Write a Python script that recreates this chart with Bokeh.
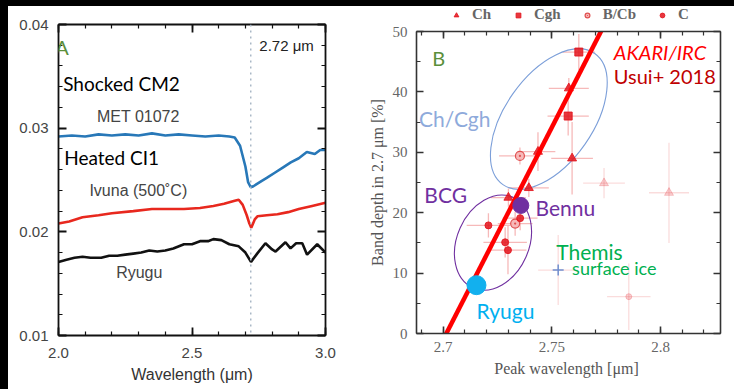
import math
from bokeh.plotting import figure
from bokeh.layouts import row, column
from bokeh.models import (Range1d, LinearAxis, SingleIntervalTicker, Span, Label,
                          Legend, LegendItem, CustomJSTickFormatter)
from bokeh.embed import file_html
from bokeh.resources import INLINE

# ---------------- Panel A data (reflectance spectra) ----------------
wl_met = [2.00, 2.05, 2.10, 2.15, 2.20, 2.25, 2.30, 2.35, 2.40, 2.45, 2.50, 2.55, 2.60,
          2.64, 2.66, 2.68, 2.70, 2.71, 2.72, 2.73, 2.76, 2.78, 2.81, 2.84, 2.87, 2.90,
          2.93, 2.96, 2.98, 3.00]
met_01072 = [0.0292, 0.0293, 0.0292, 0.0294, 0.0293, 0.0294, 0.0293, 0.0295, 0.0293, 0.0294,
             0.0293, 0.0292, 0.0293, 0.0292, 0.0291, 0.0283, 0.0263, 0.0248, 0.0243, 0.0244,
             0.0249, 0.0252, 0.0257, 0.0262, 0.0267, 0.0271, 0.0277, 0.0275, 0.0279, 0.0279]

wl_ivuna = [2.00, 2.04, 2.09, 2.15, 2.20, 2.28, 2.35, 2.42, 2.47, 2.53, 2.58, 2.62, 2.66,
            2.675, 2.69, 2.705, 2.715, 2.722, 2.735, 2.745, 2.78, 2.82, 2.86, 2.90, 2.95, 3.00]
ivuna_500C = [0.0208, 0.0210, 0.0214, 0.0216, 0.0218, 0.0220, 0.0222, 0.0222, 0.0222, 0.0223,
              0.0225, 0.0227, 0.0230, 0.0231, 0.0226, 0.0216, 0.0208, 0.0204, 0.0212, 0.0215,
              0.0216, 0.0217, 0.0219, 0.0222, 0.0225, 0.0228]

wl_ryugu = [2.00, 2.03, 2.06, 2.09, 2.12, 2.16, 2.19, 2.22, 2.25, 2.28, 2.31, 2.34, 2.37,
            2.40, 2.43, 2.47, 2.50, 2.53, 2.56, 2.58, 2.61, 2.64, 2.675, 2.70, 2.721, 2.744,
            2.775, 2.80, 2.813, 2.85, 2.869, 2.89, 2.913, 2.931, 2.969, 3.00]
ryugu_spec = [0.0171, 0.0173, 0.0175, 0.0176, 0.0175, 0.0175, 0.0177, 0.0177, 0.0178, 0.0179,
              0.0180, 0.0182, 0.0181, 0.0182, 0.0184, 0.0188, 0.0188, 0.0191, 0.0191, 0.0193,
              0.0192, 0.0188, 0.0186, 0.0180, 0.0171, 0.0179, 0.0189, 0.0183, 0.0181, 0.0190,
              0.0184, 0.0189, 0.0189, 0.0178, 0.0188, 0.0180]

band_center = 2.72

# ---------------- Panel B data (band depth vs peak wavelength) ----------------
ch_x = [2.7578, 2.7593, 2.7436, 2.7394, 2.7300]
ch_y = [40.6, 29.0, 30.1, 24.1, 22.5]
ch_xerr = [0.0092, 0.0096, 0.0080, 0.0092, 0.0080]
ch_yerr = [1.7, 6.0, 3.2, 1.5, 1.5]

cgh_x = [2.7624, 2.7575]
cgh_y = [46.6, 36.0]
cgh_xerr = [0.0075, 0.0095]
cgh_yerr = [3.0, 3.2]

bcb_x = [2.7353, 2.7331]
bcb_y = [29.4, 18.2]
bcb_xerr = [0.0096, 0.0080]
bcb_yerr = [1.4, 2.0]

c_x = [2.7208, 2.7285, 2.7298, 2.7354]
c_y = [17.9, 15.1, 13.8, 19.1]
c_xerr = [0.0100, 0.0100, 0.0085, 0.0080]
c_yerr = [2.0, 2.5, 4.0, 2.0]

faint_ch_x = [2.7740, 2.8039]
faint_ch_y = [24.9, 23.3]
faint_ch_xerr = [0.0096, 0.0092]
faint_ch_yerr = [2.5, 8.3]

faint_c_x = [2.7854]
faint_c_y = [6.1]
faint_c_xerr = [0.0100]
faint_c_yerr = [5.5]

themis_x = [2.7529]
themis_y = [10.5]
themis_xerr = [0.0092]
themis_yerr = [5.8]

bennu_x = [2.7357]
bennu_y = [21.2]
ryugu_x = [2.7153]
ryugu_y = [8.0]

fit_x = [2.700, 2.774]
fit_y = [-1.0, 51.0]

legend_labels = ["Ch", "Cgh", "B/Cb", "C"]

SANS = "Liberation Sans"
CAL = "Lato"
SERIF = "Liberation Serif"
BLANK = CustomJSTickFormatter(code="return '';")

RED = "#e3141c"
ERR = "#f08a8a"
MARKER_STYLES = [
    dict(marker="triangle", size=9, fill_color=RED, line_color=RED, fill_alpha=0.85, line_alpha=0.85),
    dict(marker="square", size=8, fill_color=RED, line_color=RED, fill_alpha=0.85, line_alpha=0.85),
    dict(marker="circle_dot", size=9, fill_color="#f7b9b9", line_color="#e05050", line_width=1.2),
    dict(marker="circle", size=7, fill_color=RED, line_color=RED, fill_alpha=0.85, line_alpha=0.85),
]


def style_axes(p, color, width, major_in, font, size, label_color):
    for ax in p.below + p.left + p.above + p.right:
        ax.axis_line_color = color
        ax.axis_line_width = width
        ax.major_tick_line_color = color
        ax.minor_tick_line_color = color
        ax.major_tick_line_width = width
        ax.minor_tick_line_width = 1.2
        ax.major_tick_in = major_in
        ax.major_tick_out = 0
        ax.minor_tick_in = 4
        ax.minor_tick_out = 0
        ax.major_label_text_font = font
        ax.major_label_text_font_size = size
        ax.major_label_text_color = label_color


def mirror_axes(p, xt, yt):
    top = LinearAxis(ticker=xt, formatter=BLANK, major_label_standoff=0)
    right = LinearAxis(ticker=yt, formatter=BLANK, major_label_standoff=0)
    p.add_layout(top, "above")
    p.add_layout(right, "right")


def lab(p, x, y, text, font, size, color, align="left", style="normal"):
    p.add_layout(Label(x=x, y=y, text=text, text_font=font, text_font_size=size,
                       text_color=color, text_align=align, text_baseline="middle",
                       text_font_style=style))


# ======================= Panel A =======================
pa = figure(width=357, height=383, x_range=Range1d(2.0, 3.0), y_range=Range1d(0.01, 0.04),
            output_backend="svg", toolbar_location=None,
            min_border_left=50, min_border_right=40, min_border_top=18, min_border_bottom=54,
            margin=(6, 0, 0, 8), background_fill_color="white", border_fill_color="white")
pa.grid.visible = False
pa.outline_line_color = None

xt_a = SingleIntervalTicker(interval=0.5, num_minor_ticks=5)
yt_a = SingleIntervalTicker(interval=0.01, num_minor_ticks=5)
pa.below[0].ticker = xt_a
pa.left[0].ticker = yt_a
pa.below[0].formatter = CustomJSTickFormatter(code="return tick.toFixed(1);")
pa.left[0].formatter = CustomJSTickFormatter(code="return tick.toFixed(2);")
mirror_axes(pa, xt_a, yt_a)
style_axes(pa, "#111111", 1.8, 8, SANS, "15px", "#444444")
pa.below[0].major_label_standoff = 12
pa.left[0].major_label_standoff = 10
pa.below[0].axis_label = "Wavelength (μm)"
pa.below[0].axis_label_text_font = SANS
pa.below[0].axis_label_text_font_style = "normal"
pa.below[0].axis_label_text_font_size = "16px"
pa.below[0].axis_label_text_color = "#333333"
pa.below[0].axis_label_standoff = 5

pa.add_layout(Span(location=band_center, dimension="height", line_color="#a9b7c6",
                   line_width=1.5, line_dash="2 4"))

pa.line(wl_met, met_01072, line_color="#2878b8", line_width=2.6)
pa.line(wl_ivuna, ivuna_500C, line_color="#e8281e", line_width=2.6)
pa.line(wl_ryugu, ryugu_spec, line_color="#111111", line_width=2.6)

lab(pa, 1.988, 0.0378, "A", CAL, "20px", "#5b8f3b")
lab(pa, 2.0176, 0.0343, "Shocked CM2", CAL, "19px", "#000000")
lab(pa, 2.299, 0.0311, "MET 01072", SANS, "16px", "#444444", "center")
lab(pa, 2.0214, 0.02717, "Heated CI1", CAL, "19px", "#000000")
lab(pa, 2.299, 0.0240, "Ivuna (500˚C)", SANS, "16px", "#444444", "center")
lab(pa, 2.3026, 0.0161, "Ryugu", SANS, "16px", "#444444", "center")
lab(pa, 2.752, 0.0380, "2.72 μm", SANS, "15px", "#222222")

# ======================= Panel B legend strip =======================
# proxy renderers: first point of each class, outside this strip's (0..1) ranges
pl = figure(width=369, height=17, x_range=Range1d(0, 1), y_range=Range1d(0, 1),
            output_backend="svg", toolbar_location=None, min_border=0,
            margin=(6, 0, 0, 0), background_fill_color="white", border_fill_color="white")
pl.axis.visible = False
pl.grid.visible = False
pl.outline_line_color = None
proxies = [(ch_x, ch_y), (cgh_x, cgh_y), (bcb_x, bcb_y), (c_x, c_y)]
leg_renderers = [pl.scatter(xs[:1], ys[:1], **st) for (xs, ys), st in zip(proxies, MARKER_STYLES)]
legend = Legend(items=[LegendItem(label=t, renderers=[r]) for t, r in zip(legend_labels, leg_renderers)],
                orientation="horizontal", location=(34, 0),
                border_line_color=None, background_fill_alpha=0,
                label_text_font=SERIF, label_text_font_style="bold",
                label_text_color="#666666", label_text_font_size="15px",
                glyph_width=12, glyph_height=12, spacing=20, padding=0, margin=0,
                label_standoff=10, label_height=14)
pl.add_layout(legend, "center")

# ======================= Panel B =======================
pb = figure(width=369, height=366, x_range=Range1d(2.6877, 2.8276), y_range=Range1d(0, 50),
            output_backend="svg", toolbar_location=None,
            min_border_left=51, min_border_right=14, min_border_top=8, min_border_bottom=56,
            margin=(0, 0, 0, 0), background_fill_color="white", border_fill_color="white")
pb.grid.visible = False
pb.outline_line_color = None

xt_b = SingleIntervalTicker(interval=0.05, num_minor_ticks=5)
yt_b = SingleIntervalTicker(interval=10, num_minor_ticks=2)
pb.below[0].ticker = xt_b
pb.left[0].ticker = yt_b
pb.below[0].formatter = CustomJSTickFormatter(code="return Number(tick.toFixed(2)).toString();")
mirror_axes(pb, xt_b, yt_b)
style_axes(pb, "#333333", 1.6, 7, SERIF, "15px", "#666666")
pb.below[0].major_label_standoff = 8
pb.left[0].major_label_standoff = 9
pb.below[0].axis_label = "Peak wavelength  [μm]"
pb.left[0].axis_label = "Band depth in 2.7 μm [%]"
for ax in (pb.below[0], pb.left[0]):
    ax.axis_label_text_font = SERIF
    ax.axis_label_text_font_style = "normal"
    ax.axis_label_text_font_size = "16px"
    ax.axis_label_text_color = "#555555"
pb.below[0].axis_label_standoff = 5
pb.left[0].axis_label_standoff = 4


def errbars(xs, ys, xe, ye, alpha):
    pb.segment([x - e for x, e in zip(xs, xe)], ys, [x + e for x, e in zip(xs, xe)], ys,
               line_color=ERR, line_width=1.3, line_alpha=alpha)
    pb.segment(xs, [y - e for y, e in zip(ys, ye)], xs, [y + e for y, e in zip(ys, ye)],
               line_color=ERR, line_width=1.3, line_alpha=alpha)


errbars(ch_x, ch_y, ch_xerr, ch_yerr, 0.6)
errbars(cgh_x, cgh_y, cgh_xerr, cgh_yerr, 0.6)
errbars(bcb_x, bcb_y, bcb_xerr, bcb_yerr, 0.6)
errbars(c_x, c_y, c_xerr, c_yerr, 0.6)
errbars(faint_ch_x, faint_ch_y, faint_ch_xerr, faint_ch_yerr, 0.3)
errbars(faint_c_x, faint_c_y, faint_c_xerr, faint_c_yerr, 0.3)
errbars(themis_x, themis_y, themis_xerr, themis_yerr, 0.3)

pb.ellipse(x=[2.7486], y=[35.5], width=160, height=88, angle=math.radians(55),
           width_units="screen", height_units="screen", fill_color=None,
           line_color="#7c9fd9", line_width=1.1)
pb.ellipse(x=[2.7229], y=[15.05], width=99, height=72, angle=math.radians(66),
           width_units="screen", height_units="screen", fill_color=None,
           line_color="#7030a0", line_width=1.1)

pb.scatter(ch_x, ch_y, **MARKER_STYLES[0])
pb.scatter(cgh_x, cgh_y, **MARKER_STYLES[1])
pb.scatter(bcb_x, bcb_y, **MARKER_STYLES[2])
pb.scatter(c_x, c_y, **MARKER_STYLES[3])
pb.scatter(faint_ch_x, faint_ch_y, marker="triangle", size=9, fill_color=RED, line_color=RED,
           fill_alpha=0.2, line_alpha=0.2)
pb.scatter(faint_c_x, faint_c_y, marker="circle", size=6, fill_color=RED, line_color=RED,
           fill_alpha=0.2, line_alpha=0.2)
pb.scatter(themis_x, themis_y, marker="cross", size=11, line_color="#6f8fd0", line_width=1.5)

pb.line(fit_x, fit_y, line_color="#ff0000", line_width=4.5)

pb.scatter(bennu_x, bennu_y, marker="circle", size=16, fill_color="#7030a0", line_color="#7030a0")
pb.scatter(ryugu_x, ryugu_y, marker="circle", size=19, fill_color="#12b0ee", line_color="#12b0ee")

lab(pb, 2.6949, 45.66, "B", CAL, "20px", "#5b8f3b")
lab(pb, 2.7785, 46.65, "AKARI/IRC", CAL, "20px", "#ff0000", style="italic")
lab(pb, 2.7785, 42.69, "Usui+ 2018", CAL, "20px", "#c00000")
lab(pb, 2.6888, 35.6, "Ch/Cgh", CAL, "21px", "#8eaadb")
lab(pb, 2.6913, 23.05, "BCG", CAL, "21px", "#7030a0")
lab(pb, 2.7425, 20.8, "Bennu", CAL, "21px", "#7030a0")
lab(pb, 2.7520, 13.5, "Themis", CAL, "21px", "#00b050")
lab(pb, 2.7593, 10.84, "surface ice", CAL, "18px", "#00b050")
lab(pb, 2.7153, 3.75, "Ryugu", CAL, "21px", "#00b0f0")

bg = ("linear-gradient(#000, #000) 0 0 / 100% 6px no-repeat, "
      "linear-gradient(#000, #000) 0 0 / 8px 100% no-repeat, #fff")
layout = row(pa, column(pl, pb), styles={"background": bg})
open("out.html", "w").write(file_html(layout, INLINE))
